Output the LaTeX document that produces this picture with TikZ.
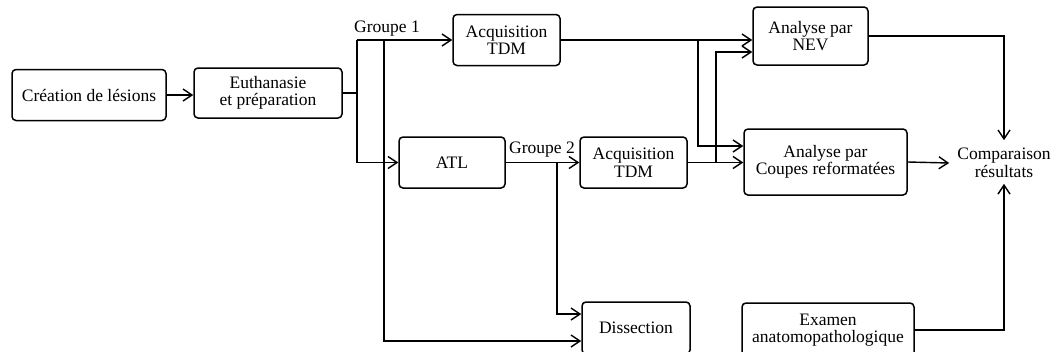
\documentclass[tikz,border=0pt]{standalone}
\usepackage{fontspec}
\setmainfont{Liberation Serif}
\usetikzlibrary{arrows.meta,calc}
\begin{document}
\begin{tikzpicture}[x=1pt,y=-1pt,
  font=\rmfamily\fontsize{17.5}{17.5}\selectfont,
  box/.style={draw,line width=1.5pt,rounded corners=4pt,align=center,inner sep=0pt},
  conn/.style={line width=1.4pt},
  arr/.style={conn,-{Straight Barb[length=9pt,width=12pt,line width=1.4pt]}},
  lbl/.style={inner sep=0pt}]
\useasboundingbox (0,0) rectangle (1052,351);
\node[box,minimum width=154pt,minimum height=51pt] (cre) at (89,95) {Création de lésions};
\node[box,minimum width=148pt,minimum height=50pt] (eut) at (268,93) {Euthanasie\\et préparation};
\node[box,minimum width=107pt,minimum height=51pt] (acq1) at (506.5,40) {Acquisition\\TDM};
\node[box,minimum width=106pt,minimum height=51pt] (atl) at (452,162.5) {ATL};
\node[box,minimum width=107pt,minimum height=51pt] (acq2) at (633.5,162.5) {Acquisition\\TDM};
\node[box,minimum width=115pt,minimum height=58pt] (nev) at (810.5,36) {Analyse par\\NEV};
\node[box,minimum width=163pt,minimum height=66pt] (cou) at (825.5,162) {Analyse par\\Coupes reformatées};
\node[box,minimum width=108pt,minimum height=52pt] (dis) at (636,328) {Dissection};
\node[box,minimum width=172pt,minimum height=54pt] (exa) at (828,330) {Examen\\anatomopathologique};
\node[lbl,align=center] (cmp) at (1004,163) {Comparaison\\résultats};
\node[lbl] (g1lbl) at (387,29) {Groupe 1};
\node[lbl] (g2lbl) at (542,150) {Groupe 2};

% left part
\draw[arr] (cre.east) -- (cre.east -| eut.west);
\coordinate (j1) at (357,93);
\draw[conn] (eut.east) -- (j1);
\draw[conn] (j1 |- acq1) -- (j1 |- atl);
\draw[arr] (j1 |- acq1) -- (acq1.west);
\draw[arr] (j1 |- atl) -- (atl.west);
% Groupe 1 branch to dissection
\coordinate (g1) at (384,40);
\draw[arr] (g1) |- ([yshift=-13pt]dis.west);
% Groupe 2
\draw[arr] (atl.east) -- (acq2.west);
\coordinate (g2) at (557,162.5);
\draw[arr] (g2) |- ([yshift=14pt]dis.west);
% acquisitions to analyses
\draw[arr] (acq1.east) -- (acq1.east -| nev.west);
\coordinate (b1) at (698,40);
\draw[arr] (b1) |- ([yshift=16pt]cou.west);
\draw[arr] (acq2.east) -- (acq2.east -| cou.west);
\coordinate (b2) at (716,162.5);
\draw[arr] (b2) |- ([yshift=-16pt]nev.west);
% to comparison
\draw[arr] (nev.east) -| ([yshift=8pt]cmp.north);
\draw[arr] (cou.east) -- ([xshift=-8pt]cmp.west);
\draw[arr] (exa.east) -| ([yshift=-6pt]cmp.south);
\end{tikzpicture}
\end{document}
